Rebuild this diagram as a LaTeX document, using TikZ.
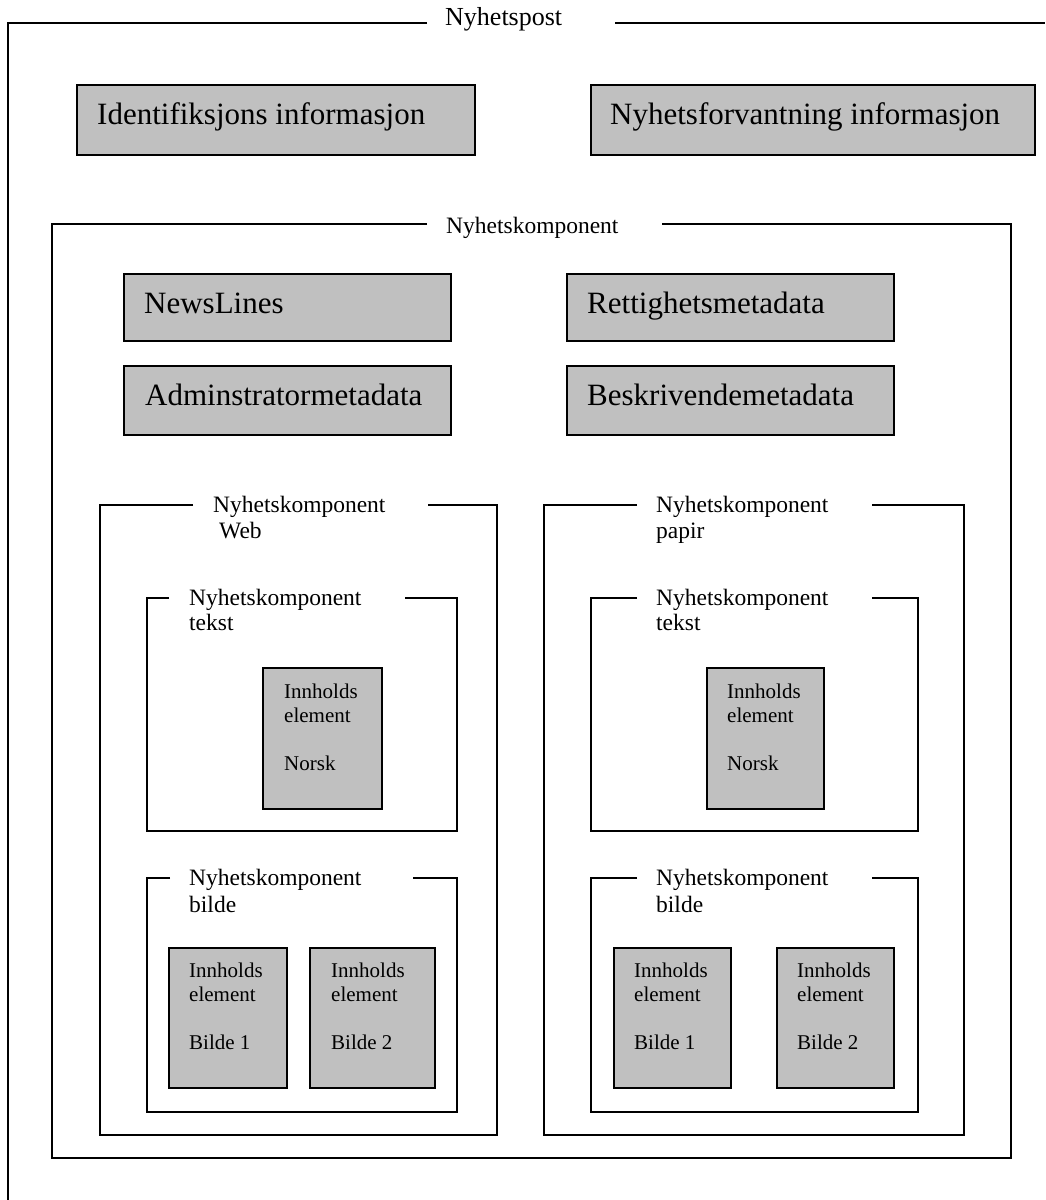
\documentclass[tikz,border=0pt]{standalone}
\usepackage{fontspec}
\setmainfont{Liberation Serif}
\definecolor{boxgray}{HTML}{C0C0C0}
\begin{document}
\begin{tikzpicture}[x=1pt,y=-1pt,
  frameline/.style={draw=black, line width=1.7pt, line join=miter},
  graybox/.style={draw=black, line width=1.7pt, fill=boxgray, anchor=north west,
    inner sep=0pt, outer sep=0pt, rectangle},
  bigtxt/.style={anchor=base west, inner sep=0pt, font=\fontsize{31}{37}\selectfont},
  posttxt/.style={anchor=base west, inner sep=0pt, font=\fontsize{26}{30}\selectfont},
  hdrtxt/.style={anchor=base west, inner sep=0pt, font=\fontsize{23.5}{26}\selectfont},
  smalltxt/.style={anchor=base west, inner sep=0pt, font=\fontsize{21}{24}\selectfont}]
\useasboundingbox (0,0) rectangle (1045,1200);

% Outer frame: Nyhetspost
\draw[frameline] (427,23) -- (8,23) -- (8,1200);
\draw[frameline] (615,23) -- (1045,23);
\node[posttxt] (post) at (445,25) {Nyhetspost};

% Top information boxes
\node[graybox, minimum width=398, minimum height=70] (ident) at (77,85) {};
\node[bigtxt] (identT) at (97,124) {Identifiksjons informasjon};
\node[graybox, minimum width=444, minimum height=70] (forv) at (591,85) {};
\node[bigtxt] (forvT) at (610,124) {Nyhetsforvantning informasjon};

% Frame: Nyhetskomponent
\draw[frameline] (427,224) -- (52,224) -- (52,1158) -- (1011,1158) -- (1011,224) -- (662,224);
\node[hdrtxt] (komp) at (446,233) {Nyhetskomponent};

% Metadata boxes
\node[graybox, minimum width=327, minimum height=67] (news) at (124,274) {};
\node[bigtxt] (newsT) at (144,313) {NewsLines};
\node[graybox, minimum width=327, minimum height=67] (rett) at (567,274) {};
\node[bigtxt] (rettT) at (587,313) {Rettighetsmetadata};
\node[graybox, minimum width=327, minimum height=69] (admin) at (124,366) {};
\node[bigtxt] (adminT) at (145,405) {Adminstratormetadata};
\node[graybox, minimum width=327, minimum height=69] (beskr) at (567,366) {};
\node[bigtxt] (beskrT) at (587,405) {Beskrivendemetadata};

% Frame: Nyhetskomponent Web
\draw[frameline] (193,505) -- (100,505) -- (100,1135) -- (497,1135) -- (497,505) -- (428,505);
\node[hdrtxt] (web1) at (213,512) {Nyhetskomponent};
\node[hdrtxt] (web2) at (219,538) {Web};

% Web / tekst
\draw[frameline] (169,598) -- (147,598) -- (147,831) -- (457,831) -- (457,598) -- (405,598);
\node[hdrtxt] (wt1) at (189,605) {Nyhetskomponent};
\node[hdrtxt] (wt2) at (189,630) {tekst};
\node[graybox, minimum width=119, minimum height=141] (wnorsk) at (263,668) {};
\node[smalltxt] (wn1) at (284,698) {Innholds};
\node[smalltxt] (wn2) at (284,722) {element};
\node[smalltxt] (wn3) at (284,770) {Norsk};

% Web / bilde
\draw[frameline] (170,878) -- (147,878) -- (147,1112) -- (457,1112) -- (457,878) -- (413,878);
\node[hdrtxt] (wb1h) at (189,885) {Nyhetskomponent};
\node[hdrtxt] (wb2h) at (189,912) {bilde};
\node[graybox, minimum width=118, minimum height=140] (wbA) at (169,948) {};
\node[smalltxt] (wa1) at (189,977) {Innholds};
\node[smalltxt] (wa2) at (189,1001) {element};
\node[smalltxt] (wa3) at (189,1049) {Bilde 1};
\node[graybox, minimum width=125, minimum height=140] (wbB) at (310,948) {};
\node[smalltxt] (wc1) at (331,977) {Innholds};
\node[smalltxt] (wc2) at (331,1001) {element};
\node[smalltxt] (wc3) at (331,1049) {Bilde 2};

% Frame: Nyhetskomponent papir
\draw[frameline] (637,505) -- (544,505) -- (544,1135) -- (964,1135) -- (964,505) -- (872,505);
\node[hdrtxt] (pap1) at (656,512) {Nyhetskomponent};
\node[hdrtxt] (pap2) at (656,538) {papir};

% Papir / tekst
\draw[frameline] (637,598) -- (591,598) -- (591,831) -- (918,831) -- (918,598) -- (872,598);
\node[hdrtxt] (pt1) at (656,605) {Nyhetskomponent};
\node[hdrtxt] (pt2) at (656,630) {tekst};
\node[graybox, minimum width=117, minimum height=141] (pnorsk) at (707,668) {};
\node[smalltxt] (pn1) at (727,698) {Innholds};
\node[smalltxt] (pn2) at (727,722) {element};
\node[smalltxt] (pn3) at (727,770) {Norsk};

% Papir / bilde
\draw[frameline] (637,878) -- (591,878) -- (591,1112) -- (918,1112) -- (918,878) -- (872,878);
\node[hdrtxt] (pb1h) at (656,885) {Nyhetskomponent};
\node[hdrtxt] (pb2h) at (656,912) {bilde};
\node[graybox, minimum width=117, minimum height=140] (pbA) at (614,948) {};
\node[smalltxt] (pa1) at (634,977) {Innholds};
\node[smalltxt] (pa2) at (634,1001) {element};
\node[smalltxt] (pa3) at (634,1049) {Bilde 1};
\node[graybox, minimum width=117, minimum height=140] (pbB) at (777,948) {};
\node[smalltxt] (pc1) at (797,977) {Innholds};
\node[smalltxt] (pc2) at (797,1001) {element};
\node[smalltxt] (pc3) at (797,1049) {Bilde 2};
\end{tikzpicture}
\end{document}
